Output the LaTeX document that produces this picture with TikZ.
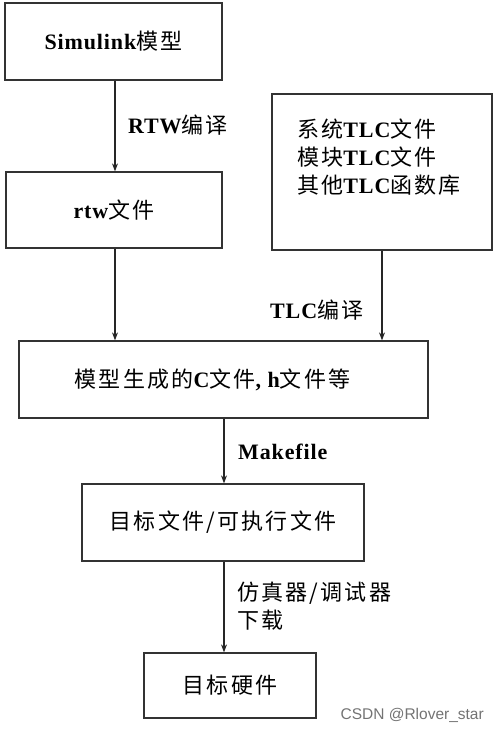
\documentclass[tikz,border=0pt]{standalone}
\usepackage{fontspec}
\setmainfont{Liberation Serif}[LetterSpace=4]
\newfontfamily\cjk{Noto Sans CJK SC}[LetterSpace=10]
\newfontfamily\wmfont{Liberation Sans}
\newcommand\zh[1]{{\cjk\mdseries #1}}
\usetikzlibrary{arrows.meta}
\begin{document}
\begin{tikzpicture}[x=1pt,y=-1pt,
  blk/.style={draw=black!80, line width=1.3pt, inner sep=0pt, align=center,
    font=\fontsize{22}{28}\selectfont\bfseries},
  lbl/.style={anchor=west, inner sep=0pt, align=left,
    font=\fontsize{22}{28}\selectfont\bfseries},
  arr/.style={draw=black!85, line width=1.1pt, -{Stealth[length=8pt,width=6pt]}}]
\useasboundingbox (0,0) rectangle (500,732);
\node[blk, minimum width=217pt, minimum height=77pt] (sim) at (113.5,41.5) {Simulink\zh{模型}};
\node[blk, minimum width=216pt, minimum height=76pt] (rtw) at (114,210) {rtw\zh{文件}};
\node[blk, minimum width=220pt, minimum height=156pt] (tlc) at (382,172) {};
\node[lbl] (tlctext) at (297,157) {\zh{系统}TLC\zh{文件}\\\zh{模块}TLC\zh{文件}\\\zh{其他}TLC\zh{函数库}};
\node[blk, minimum width=409pt, minimum height=77pt] (cfile) at (223.5,379.5) {\zh{模型生成的}C\zh{文件}, h\zh{文件等}\hspace*{22pt}};
\node[blk, minimum width=282pt, minimum height=77pt] (obj) at (223,522.5) {\zh{目标文件/可执行文件}};
\node[blk, minimum width=172pt, minimum height=65pt] (hw) at (230,685.5) {\zh{目标硬件}};
\node[lbl] (lrtw) at (128,125) {RTW\zh{编译}};
\node[lbl] (ltlc) at (270,310) {TLC\zh{编译}};
\node[lbl] (lmake) at (238,452) {Makefile};
\node[lbl] (ldl) at (237,606) {\zh{仿真器/调试器}\\\zh{下载}};
\node[anchor=east, inner sep=0pt, text=black!55, font=\wmfont\fontsize{15.5}{18}\selectfont] (wm) at (484,715) {CSDN @Rlover\_star};
\draw[arr] (sim.south -| 115,0) -- (rtw.north -| 115,0);
\draw[arr] (rtw.south -| 115,0) -- (cfile.north -| 115,0);
\draw[arr] (tlc.south) -- (tlc.south |- cfile.north);
\draw[arr] (cfile.south -| 224,0) -- (obj.north -| 224,0);
\draw[arr] (obj.south -| 224,0) -- (hw.north -| 224,0);
\end{tikzpicture}
\end{document}
